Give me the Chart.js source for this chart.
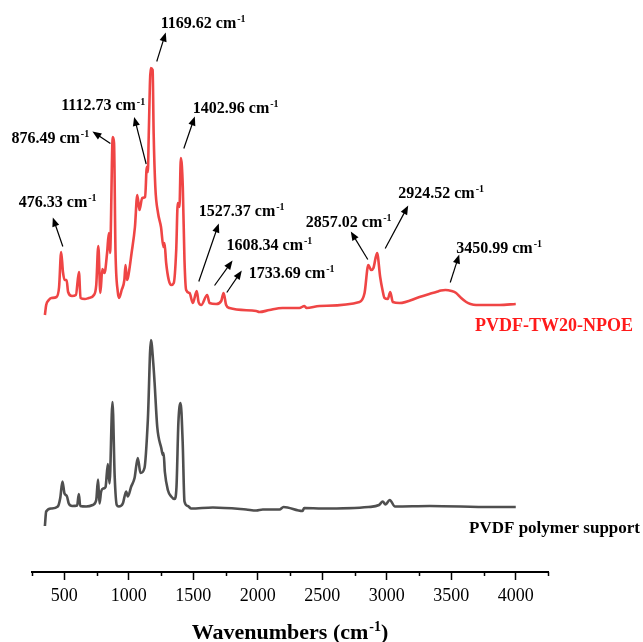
<!DOCTYPE html>
<html lang="en">
<head>
    <meta charset="UTF-8">
    <title>FTIR PVDF</title>
    <script src="https://cdn.jsdelivr.net/npm/chart.js"></script>
    <style>
        body { margin: 0; background: #fff; }
        #wrap { width: 643px; height: 642px; }
    </style>
</head>
<body>
    <div id="wrap"><canvas id="grafica"></canvas></div>

    <script>
        // PVDF-TW20-NPOE (red, upper trace)
        const npoeWavenumber = [350, 360, 380, 400, 440, 460, 476, 490, 503, 518, 530, 560, 590, 614, 626, 660, 690, 730, 748, 764, 780, 795, 812, 832, 846, 855, 876, 886, 897, 915, 925, 945, 966, 975, 986, 995, 1022, 1048, 1066, 1083, 1104, 1127, 1140, 1148, 1155, 1170, 1185, 1193, 1206, 1227, 1250, 1269, 1277, 1290, 1310, 1329, 1349, 1368, 1380, 1393, 1404, 1419, 1432, 1445, 1471, 1497, 1527, 1541, 1562, 1608, 1626, 1678, 1717, 1735, 1755, 1781, 1988, 2013, 2091, 2192, 2323, 2362, 2378, 2479, 2789, 2828, 2857, 2879, 2897, 2925, 2949, 2967, 2983, 3008, 3027, 3047, 3099, 3254, 3330, 3383, 3420, 3455, 3502, 3538, 3577, 3616, 3649, 3693, 3874, 4000];
        const npoeAbs = [0.514, 0.534, 0.544, 0.548, 0.550, 0.570, 0.640, 0.600, 0.584, 0.584, 0.560, 0.552, 0.554, 0.600, 0.548, 0.546, 0.548, 0.554, 0.574, 0.652, 0.558, 0.606, 0.598, 0.638, 0.678, 0.638, 0.870, 0.858, 0.644, 0.560, 0.548, 0.564, 0.584, 0.614, 0.584, 0.590, 0.638, 0.690, 0.754, 0.724, 0.748, 0.750, 0.810, 0.800, 0.874, 1.008, 1.004, 0.878, 0.770, 0.718, 0.690, 0.650, 0.658, 0.618, 0.584, 0.574, 0.578, 0.644, 0.738, 0.730, 0.828, 0.770, 0.624, 0.564, 0.558, 0.538, 0.562, 0.540, 0.534, 0.554, 0.538, 0.536, 0.542, 0.558, 0.534, 0.528, 0.522, 0.520, 0.524, 0.528, 0.528, 0.532, 0.528, 0.532, 0.540, 0.558, 0.614, 0.604, 0.608, 0.638, 0.590, 0.564, 0.548, 0.546, 0.560, 0.540, 0.538, 0.550, 0.556, 0.560, 0.563, 0.564, 0.562, 0.558, 0.548, 0.540, 0.536, 0.534, 0.534, 0.536];

        // PVDF polymer support (grey, lower trace)
        const pvdfWavenumber = [350, 360, 399, 450, 469, 486, 502, 520, 535, 562, 600, 613, 624, 670, 721, 748, 762, 773, 786, 804, 820, 838, 851, 874, 891, 907, 923, 954, 980, 993, 1019, 1045, 1070, 1091, 1122, 1148, 1172, 1190, 1200, 1221, 1253, 1264, 1270, 1280, 1303, 1329, 1355, 1370, 1385, 1402, 1418, 1432, 1458, 1484, 1652, 1910, 1988, 2039, 2169, 2200, 2347, 2360, 2500, 2858, 2940, 2969, 2990, 3023, 3064, 3334, 3810, 4000];
        const pvdfAbs = [0.092, 0.121, 0.127, 0.131, 0.148, 0.181, 0.157, 0.152, 0.137, 0.132, 0.133, 0.156, 0.132, 0.131, 0.134, 0.144, 0.185, 0.137, 0.161, 0.167, 0.170, 0.216, 0.177, 0.340, 0.191, 0.134, 0.131, 0.137, 0.161, 0.151, 0.171, 0.188, 0.228, 0.198, 0.208, 0.304, 0.464, 0.418, 0.380, 0.290, 0.247, 0.234, 0.238, 0.200, 0.164, 0.151, 0.146, 0.170, 0.300, 0.338, 0.260, 0.141, 0.132, 0.127, 0.129, 0.125, 0.123, 0.125, 0.125, 0.130, 0.122, 0.128, 0.127, 0.130, 0.134, 0.141, 0.135, 0.144, 0.131, 0.132, 0.130, 0.130];

        const tickLabels = [500, 1000, 1500, 2000, 2500, 3000, 3500, 4000];

        // peak labels: arrow tail sits on the red trace (wavenumber, abs)
        const peakNames = ['476.33', '876.49', '1112.73', '1169.62', '1402.96', '1527.37', '1608.34', '1733.69', '2857.02', '2924.52', '3450.99'];
        const peakTailWavenumber = [489, 858, 1135, 1217, 1427, 1543, 1665, 1760, 2853, 2988, 3492];
        const peakTailAbs = [0.651, 0.857, 0.816, 1.021, 0.847, 0.581, 0.573, 0.559, 0.625, 0.647, 0.579];

        // pixel offsets from the tail: arrow head and label (left, middle)
        const peakLayout = [
            { head: [-10, -29], label: [-44, -45] },
            { head: [-18, -12], label: [-99, -6] },
            { head: [-12, -47], label: [-85, -59] },
            { head: [9, -29], label: [4, -39] },
            { head: [11, -32], label: [9, -41] },
            { head: [20, -58], label: [0, -71] },
            { head: [18, -25], label: [12, -41] },
            { head: [15, -22], label: [22, -20] },
            { head: [-17, -28], label: [-62, -38] },
            { head: [23, -43], label: [13, -56] },
            { head: [9, -28], label: [6, -35] }
        ];

        const FONT = '"Liberation Serif", "Times New Roman", serif';

        function toPoints(xs, ys) {
            return xs.map((v, i) => ({ x: v, y: ys[i] }));
        }

        // text with a "-1" superscript after it, optional tail text
        function supText(ctx, main, sup, tail, x, midY, size, align) {
            const big = `bold ${size}px ${FONT}`;
            const small = `bold ${Math.round(size * 0.62)}px ${FONT}`;
            ctx.font = big;
            const w1 = ctx.measureText(main).width;
            const w3 = tail ? ctx.measureText(tail).width : 0;
            ctx.font = small;
            const w2 = ctx.measureText(sup).width + 1;
            let left = x;
            if (align === 'center') left = x - (w1 + w2 + w3) / 2;
            if (align === 'right') left = x - (w1 + w2 + w3);
            const base = midY + size * 0.33;
            ctx.textAlign = 'left';
            ctx.textBaseline = 'alphabetic';
            ctx.font = big;
            ctx.fillText(main, left, base);
            ctx.font = small;
            ctx.fillText(sup, left + w1 + 1, base - size * 0.36);
            if (tail) {
                ctx.font = big;
                ctx.fillText(tail, left + w1 + w2, base);
            }
        }

        function arrow(ctx, x0, y0, x1, y1) {
            const ang = Math.atan2(y1 - y0, x1 - x0);
            const len = 9, half = 3.6;
            ctx.beginPath();
            ctx.moveTo(x0, y0);
            ctx.lineTo(x1 - Math.cos(ang) * len * 0.8, y1 - Math.sin(ang) * len * 0.8);
            ctx.stroke();
            ctx.beginPath();
            ctx.moveTo(x1, y1);
            ctx.lineTo(x1 - Math.cos(ang) * len + Math.sin(ang) * half, y1 - Math.sin(ang) * len - Math.cos(ang) * half);
            ctx.lineTo(x1 - Math.cos(ang) * len - Math.sin(ang) * half, y1 - Math.sin(ang) * len + Math.cos(ang) * half);
            ctx.closePath();
            ctx.fill();
        }

        const anotaciones = {
            id: 'anotaciones',
            afterDraw(chart) {
                const { ctx, chartArea, scales: { x, y } } = chart;
                ctx.save();
                ctx.strokeStyle = '#000';
                ctx.fillStyle = '#000';

                // minor ticks (every 250)
                ctx.lineWidth = 1.5;
                for (let v = 250; v <= 4250; v += 250) {
                    if (v % 500 === 0) continue;
                    const px = Math.round(x.getPixelForValue(v)) + 0.5;
                    ctx.beginPath();
                    ctx.moveTo(px, chartArea.bottom);
                    ctx.lineTo(px, chartArea.bottom + 4);
                    ctx.stroke();
                }

                ctx.lineWidth = 1.2;
                peakNames.forEach((name, i) => {
                    const tx = x.getPixelForValue(peakTailWavenumber[i]);
                    const ty = y.getPixelForValue(peakTailAbs[i]);
                    const l = peakLayout[i];
                    arrow(ctx, tx, ty, tx + l.head[0], ty + l.head[1]);
                    supText(ctx, name + ' cm', '-1', '', tx + l.label[0], ty + l.label[1], 16, 'left');
                });

                // series names
                ctx.textAlign = 'right';
                ctx.textBaseline = 'middle';
                ctx.fillStyle = '#ff1a1a';
                ctx.font = `bold 18px ${FONT}`;
                ctx.fillText('PVDF-TW20-NPOE', 633, y.getPixelForValue(npoeAbs[npoeAbs.length - 1]) + 22);
                ctx.fillStyle = '#000';
                ctx.font = `bold 17px ${FONT}`;
                ctx.fillText('PVDF polymer support', 640, y.getPixelForValue(pvdfAbs[pvdfAbs.length - 1]) + 22);

                // axis title
                supText(ctx, 'Wavenumbers (cm', '-1', ')', (chartArea.left + chartArea.right) / 2, 632, 22, 'center');
                ctx.restore();
            }
        };

        const ctx = document.getElementById('grafica').getContext('2d');
        new Chart(ctx, {
            type: 'line',
            data: {
                datasets: [{
                    label: 'PVDF-TW20-NPOE',
                    data: toPoints(npoeWavenumber, npoeAbs),
                    borderColor: '#ef4545',
                    borderWidth: 2.6,
                    pointRadius: 0,
                    cubicInterpolationMode: 'monotone',
                    fill: false
                }, {
                    label: 'PVDF polymer support',
                    data: toPoints(pvdfWavenumber, pvdfAbs),
                    borderColor: '#4f4f4f',
                    borderWidth: 2.6,
                    pointRadius: 0,
                    cubicInterpolationMode: 'monotone',
                    fill: false
                }]
            },
            options: {
                responsive: true,
                maintainAspectRatio: false,
                animation: false,
                layout: { padding: { left: 32, right: 95, top: 0, bottom: 0 } },
                plugins: {
                    legend: { display: false },
                    tooltip: { enabled: false }
                },
                scales: {
                    x: {
                        type: 'linear',
                        min: 250,
                        max: 4250,
                        afterFit: (scale) => { scale.height = 70; },
                        border: { display: true, color: '#000', width: 2 },
                        grid: {
                            drawOnChartArea: false,
                            drawTicks: true,
                            tickLength: 8,
                            tickWidth: 1.5,
                            tickColor: (c) => (c.tick && tickLabels.includes(c.tick.value)) ? '#000' : 'rgba(0,0,0,0)'
                        },
                        ticks: {
                            stepSize: 250,
                            autoSkip: false,
                            maxRotation: 0,
                            padding: 5,
                            color: '#000',
                            font: { family: FONT, size: 18 },
                            callback: (v) => tickLabels.includes(v) ? String(v) : ''
                        }
                    },
                    y: {
                        display: false,
                        min: 0,
                        max: 1.144
                    }
                }
            },
            plugins: [anotaciones]
        });
    </script>
</body>
</html>
